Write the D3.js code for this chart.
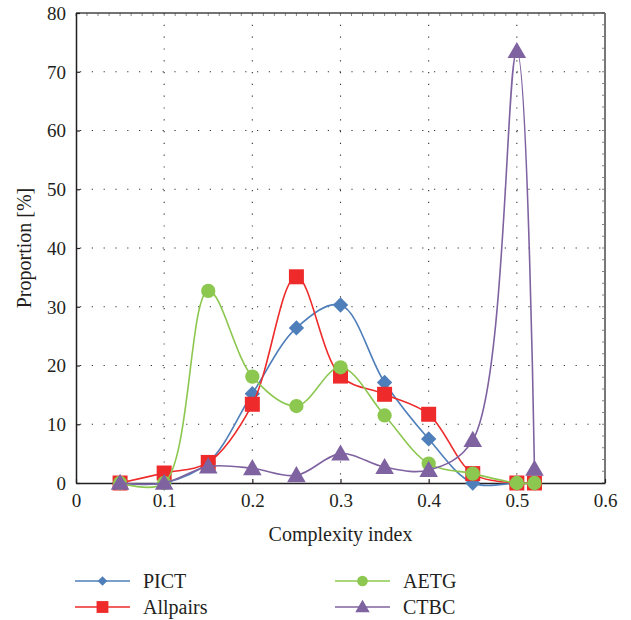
<!DOCTYPE html>
<html>
<head>
<meta charset="utf-8">
<script src="https://cdn.jsdelivr.net/npm/d3@7"></script>
<style>
  body { margin: 0; background: #fff; }
  svg text { font-family: "Liberation Serif", "DejaVu Serif", serif; fill: #231f20; }
</style>
</head>
<body>
<div class="chart"></div>
<script>
// x positions (complexity index)
const xs = [0.05, 0.1, 0.15, 0.2, 0.25, 0.3, 0.35, 0.4, 0.45, 0.5, 0.52];

// proportions [%]
const pict     = [0, 0, 3.5, 15.2, 26.4, 30.3, 17.1, 7.5, 0, 0, 0];
const allpairs = [0, 1.7, 3.5, 13.4, 35.1, 18.2, 15.1, 11.7, 1.6, 0, 0];
const aetg     = [0, 0, 32.7, 18.1, 13.1, 19.7, 11.5, 3.3, 1.6, 0, 0];
const ctbc     = [0, 0, 2.8, 2.5, 1.3, 5, 2.7, 2.2, 7.3, 73.5, 2.4];

const xTicks = [0, 0.1, 0.2, 0.3, 0.4, 0.5, 0.6];
const yTicks = [0, 10, 20, 30, 40, 50, 60, 70, 80];

const seriesList = [
  { name: "PICT", values: pict, color: "#4f7fba", symbol: "diamond" },
  { name: "Allpairs", values: allpairs, color: "#ee2a2a", symbol: "square" },
  { name: "AETG", values: aetg, color: "#8cc74f", symbol: "circle" },
  { name: "CTBC", values: ctbc, color: "#7f63a1", symbol: "triangle" }
];

const serif = "'Liberation Serif', 'DejaVu Serif', serif";

let width = 631, height = 620;
let margin = { top: 13, right: 26, bottom: 137, left: 76 };
let plotW = width - margin.left - margin.right,
  plotH = height - margin.top - margin.bottom;

let svg = d3.select(".chart").append("svg")
  .attr("width", width)
  .attr("height", height);

let g = svg.append("g")
  .attr("transform", "translate(" + margin.left + "," + margin.top + ")");

let x = d3.scaleLinear().domain([0, 0.6]).range([0, plotW]);
let y = d3.scaleLinear().domain([0, 80]).range([plotH, 0]);

// dotted grid
g.selectAll(".vgrid")
  .data(xTicks.slice(1, -1))
  .enter().append("line")
  .attr("x1", (d) => x(d)).attr("x2", (d) => x(d))
  .attr("y1", 0).attr("y2", plotH)
  .attr("stroke", "#333").attr("stroke-width", 1.1)
  .attr("stroke-dasharray", "1.2,10.6");

g.selectAll(".hgrid")
  .data(yTicks.slice(1, -1))
  .enter().append("line")
  .attr("x1", 0).attr("x2", plotW)
  .attr("y1", (d) => y(d)).attr("y2", (d) => y(d))
  .attr("stroke", "#333").attr("stroke-width", 1.1)
  .attr("stroke-dasharray", "1.2,10.6")
  .attr("stroke-dashoffset", -4);

// minor ticks on top and right
let topMinor = d3.range(0, 0.6001, 0.0125);
g.selectAll(".topminor")
  .data(topMinor)
  .enter().append("line")
  .attr("x1", (d) => x(d)).attr("x2", (d) => x(d))
  .attr("y1", 0).attr("y2", 3)
  .attr("stroke", "#666").attr("stroke-width", 0.8);

let rightMinor = d3.range(0, 80.01, 2);
g.selectAll(".rightminor")
  .data(rightMinor)
  .enter().append("line")
  .attr("x1", plotW - 3).attr("x2", plotW)
  .attr("y1", (d) => y(d)).attr("y2", (d) => y(d))
  .attr("stroke", "#666").attr("stroke-width", 0.8);

// frame
g.append("line").attr("x1", 0).attr("x2", plotW).attr("y1", 0).attr("y2", 0)
  .attr("stroke", "#444").attr("stroke-width", 1.3);
g.append("line").attr("x1", plotW).attr("x2", plotW).attr("y1", 0).attr("y2", plotH)
  .attr("stroke", "#777").attr("stroke-width", 2);

// axes with inward ticks
let xAxis = g.append("g")
  .attr("transform", "translate(0," + plotH + ")")
  .call(d3.axisBottom(x).tickValues(xTicks).tickSizeInner(-4).tickSizeOuter(0)
    .tickFormat((d) => d === 0 ? "0" : d3.format(".1f")(d)));
xAxis.select(".domain").attr("stroke", "#231f20").attr("stroke-width", 1.5);
xAxis.selectAll(".tick line").attr("stroke", "#231f20").attr("stroke-width", 1.2);
xAxis.selectAll("text")
  .attr("y", 11)
  .style("font-family", serif)
  .style("font-size", "19px").attr("fill", "#231f20");

let yAxis = g.append("g")
  .call(d3.axisLeft(y).tickValues(yTicks).tickSizeInner(-4).tickSizeOuter(0));
yAxis.select(".domain").attr("stroke", "#231f20").attr("stroke-width", 1.5);
yAxis.selectAll(".tick line").attr("stroke", "#231f20").attr("stroke-width", 1.2);
yAxis.selectAll("text")
  .attr("x", -10)
  .attr("dy", "0.34em")
  .style("font-family", serif)
  .style("font-size", "19px").attr("fill", "#231f20");

// axis titles
svg.append("text")
  .attr("x", margin.left + plotW / 2)
  .attr("y", 541)
  .attr("text-anchor", "middle")
  .style("font-family", serif)
  .style("font-size", "20px")
  .text("Complexity index");

svg.append("text")
  .attr("transform", "translate(31," + (margin.top + plotH / 2) + ") rotate(-90)")
  .attr("text-anchor", "middle")
  .style("font-family", serif)
  .style("font-size", "20px")
  .text("Proportion [%]");

// series
let line = d3.line()
  .x((d) => x(d[0]))
  .y((d) => y(d[1]))
  .curve(d3.curveCatmullRom.alpha(0.5));

let symbolTypes = {
  diamond: d3.symbolDiamond2,
  square: d3.symbolSquare,
  circle: d3.symbolCircle,
  triangle: d3.symbolTriangle
};
let symbolSizes = { diamond: 150, square: 225, circle: 160, triangle: 150 };

function symbolPath(s) {
  return d3.symbol().type(symbolTypes[s]).size(symbolSizes[s])();
}

seriesList.forEach((s) => {
  let pts = xs.map((xv, i) => [xv, s.values[i]]);
  let sg = g.append("g").attr("class", "series");
  sg.append("path")
    .datum(pts)
    .attr("d", line)
    .attr("fill", "none")
    .attr("stroke", s.color)
    .attr("stroke-width", 1.6);
  sg.selectAll(".pt")
    .data(pts)
    .enter().append("path")
    .attr("class", "pt")
    .attr("transform", (d) => "translate(" + x(d[0]) + "," + (y(d[1]) + (s.symbol === "triangle" ? 1.5 : 0)) + ")")
    .attr("d", symbolPath(s.symbol))
    .attr("fill", s.color);
});

// legend
let legendPos = [
  { x: 75, y: 581 },
  { x: 75, y: 607 },
  { x: 335, y: 581 },
  { x: 335, y: 607 }
];

seriesList.forEach((s, i) => {
  let p = legendPos[i];
  let lg = svg.append("g").attr("transform", "translate(" + p.x + "," + p.y + ")");
  lg.append("line")
    .attr("x1", 0).attr("x2", 55).attr("y1", 0).attr("y2", 0)
    .attr("stroke", s.color).attr("stroke-width", 1.6);
  let sz = { diamond: 60, square: 140, circle: 90, triangle: 90 }[s.symbol];
  lg.append("path")
    .attr("transform", "translate(27.5," + (s.symbol === "triangle" ? 1 : 0) + ")")
    .attr("d", d3.symbol().type(symbolTypes[s.symbol]).size(sz)())
    .attr("fill", s.color);
  lg.append("text")
    .attr("x", 68)
    .attr("y", 0)
    .attr("dy", "0.35em")
    .style("font-family", serif)
    .style("font-size", "20px")
    .text(s.name);
});
</script>
</body>
</html>
